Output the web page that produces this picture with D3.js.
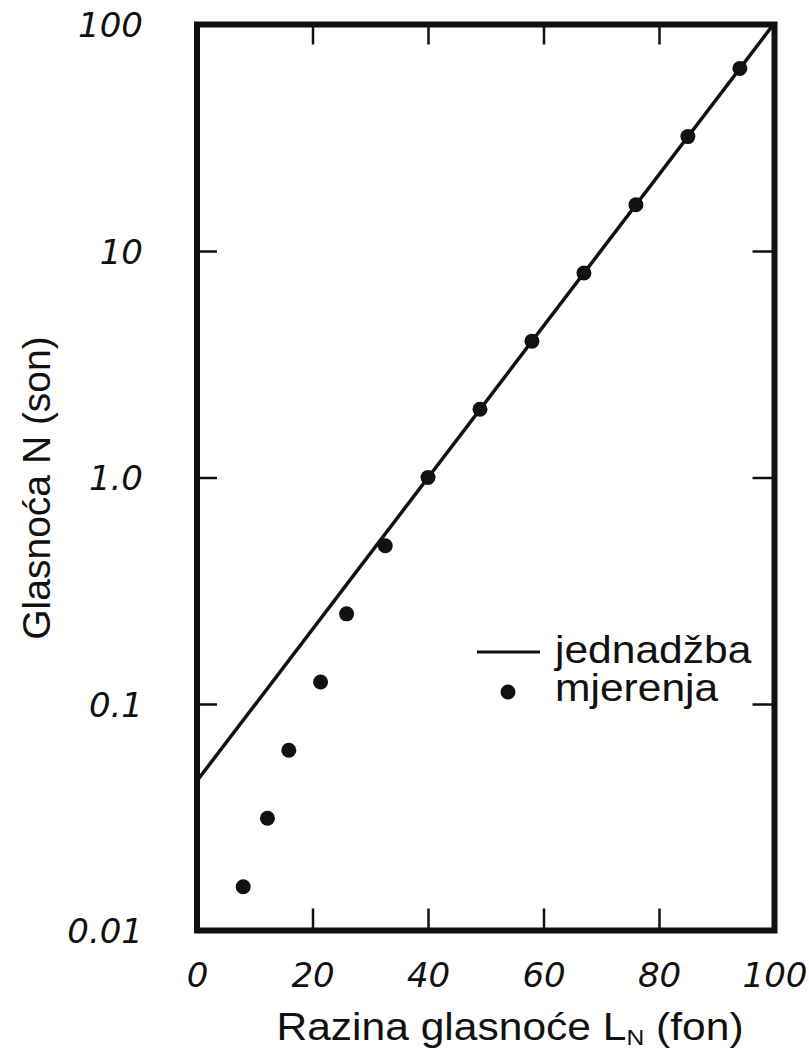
<!DOCTYPE html>
<html>
<head>
<meta charset="utf-8">
<script src="https://cdn.jsdelivr.net/npm/d3@7"></script>
<style>
  html, body { margin: 0; padding: 0; background: #fff; }
  svg { display: block; }
</style>
</head>
<body>
<svg id="chart" width="809" height="1053"></svg>
<script>
// Measured loudness (sone) against loudness level (phon)
const measuredLevel = [8, 12.2, 15.9, 21.4, 25.9, 32.6, 40, 49, 58, 67, 76, 85, 94];
const measuredSone  = [0.0156, 0.0313, 0.0625, 0.125, 0.25, 0.5, 1, 2, 4, 8, 16, 32, 64];

// Straight line of the loudness equation (ends of the drawn segment)
const equationLevel = [0, 99.8];
const equationSone  = [0.0458, 100];

// Axis ticks and their labels
const xTicks = [0, 20, 40, 60, 80, 100];
const xTickLabels = ["0", "20", "40", "60", "80", "100"];
const yTicks = [100, 10, 1, 0.1, 0.01];
const yTickLabels = ["100", "10", "1.0", "0.1", "0.01"];

const xTitle = "Razina glasnoće L";
const xTitleSub = "N";
const xTitleEnd = " (fon)";
const yTitle = "Glasnoća N (son)";
const legendLine = "jednadžba";
const legendDots = "mjerenja";

const svg = d3.select("#chart");
const plotLeft = 197, plotRight = 774.5, plotTop = 24.5, plotBottom = 930.5;

const x = d3.scaleLinear().domain([0, 100]).range([plotLeft, plotRight]);
const y = d3.scaleLog().domain([0.01, 100]).range([plotBottom, plotTop]);

const tickFont = "'DejaVu Sans', sans-serif";
const textFont = "'Liberation Sans', Arial, sans-serif";

// Clip for marks inside the frame
svg.append("defs").append("clipPath").attr("id", "plotClip")
  .append("rect").attr("x", plotLeft).attr("y", plotTop)
  .attr("width", plotRight - plotLeft).attr("height", plotBottom - plotTop);

// Inward tick marks on all four sides
const innerX = xTicks.filter(d => d > 0 && d < 100);
const innerY = yTicks.filter(d => d > 0.01 && d < 100);

function styleTicks(g) {
  g.select(".domain").remove();
  g.selectAll(".tick line").attr("stroke", "#111").attr("stroke-width", 2.5);
  g.selectAll(".tick text").remove();
}
svg.append("g").attr("transform", `translate(0,${plotBottom})`)
  .call(d3.axisBottom(x).tickValues(innerX).tickSize(-22)).call(styleTicks);
svg.append("g").attr("transform", `translate(0,${plotTop})`)
  .call(d3.axisTop(x).tickValues(innerX).tickSize(-20)).call(styleTicks);
svg.append("g").attr("transform", `translate(${plotLeft},0)`)
  .call(d3.axisLeft(y).tickValues(innerY).tickSize(-20)).call(styleTicks);
svg.append("g").attr("transform", `translate(${plotRight},0)`)
  .call(d3.axisRight(y).tickValues(innerY).tickSize(-22)).call(styleTicks);

// Tick labels
const xLab = svg.append("g").attr("transform", `translate(0,${plotBottom})`)
  .call(d3.axisBottom(x).tickValues(xTicks).tickSize(0).tickPadding(44)
    .tickFormat((d, i) => xTickLabels[i]));
xLab.select(".domain").remove();
xLab.selectAll(".tick text")
  .attr("font-family", tickFont).attr("font-style", "oblique")
  .attr("font-size", 34).attr("fill", "#111").attr("dy", "0.36em");

const yLab = svg.append("g").attr("transform", `translate(${plotLeft},0)`)
  .call(d3.axisLeft(y).tickValues(yTicks).tickSize(0).tickPadding(54)
    .tickFormat((d, i) => yTickLabels[i]));
yLab.select(".domain").remove();
yLab.selectAll(".tick text")
  .attr("font-family", tickFont).attr("font-style", "oblique")
  .attr("font-size", 34).attr("fill", "#111").attr("dy", "0.36em");

// Equation line
const lineData = equationLevel.map((d, i) => [d, equationSone[i]]);
svg.append("path")
  .datum(lineData)
  .attr("clip-path", "url(#plotClip)")
  .attr("fill", "none").attr("stroke", "#111").attr("stroke-width", 3.5)
  .attr("d", d3.line().x(d => x(d[0])).y(d => y(d[1])));

// Measured points
svg.append("g").selectAll("circle")
  .data(measuredLevel.map((d, i) => [d, measuredSone[i]]))
  .join("circle")
  .attr("cx", d => x(d[0])).attr("cy", d => y(d[1]))
  .attr("r", 7.5).attr("fill", "#111");

// Frame
svg.append("rect")
  .attr("x", plotLeft).attr("y", plotTop)
  .attr("width", plotRight - plotLeft).attr("height", plotBottom - plotTop)
  .attr("fill", "none").attr("stroke", "#111").attr("stroke-width", 6);

// Legend
const lg = svg.append("g");
lg.append("line").attr("x1", 477).attr("x2", 540).attr("y1", 652).attr("y2", 652)
  .attr("stroke", "#111").attr("stroke-width", 3);
lg.append("circle").attr("cx", 508).attr("cy", 692).attr("r", 7.5).attr("fill", "#111");
lg.append("text").attr("transform", "translate(555,663) scale(1.12,1)")
  .attr("font-family", textFont).attr("font-size", 38).attr("fill", "#111")
  .text(legendLine);
lg.append("text").attr("transform", "translate(555,701) scale(1.12,1)")
  .attr("font-family", textFont).attr("font-size", 38).attr("fill", "#111")
  .text(legendDots);

// Axis titles
const xt = svg.append("text")
  .attr("transform", "translate(510,1040) scale(1.12,1)")
  .attr("text-anchor", "middle")
  .attr("font-family", textFont).attr("font-size", 38).attr("fill", "#111");
xt.append("tspan").text(xTitle);
xt.append("tspan").attr("font-size", 22).attr("dy", 5).text(xTitleSub);
xt.append("tspan").attr("dy", -5).text(xTitleEnd);

svg.append("text")
  .attr("transform", "translate(50,488) rotate(-90)")
  .attr("text-anchor", "middle")
  .attr("font-family", textFont).attr("font-size", 39).attr("fill", "#111")
  .text(yTitle);
</script>
</body>
</html>
